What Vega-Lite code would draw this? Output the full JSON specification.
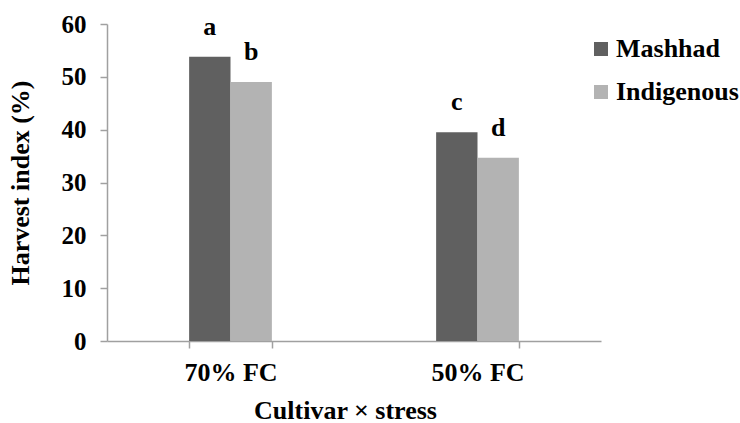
{
  "$schema": "https://vega.github.io/schema/vega-lite/v6.json",
  "width": 494,
  "height": 317,
  "autosize": {"type": "none"},
  "padding": {"left": 107, "top": 24, "right": 139, "bottom": 82},
  "background": "white",
  "config": {
    "view": {"stroke": null},
    "font": "Liberation Serif",
    "axis": {"labelFont": "Liberation Serif", "titleFont": "Liberation Serif", "labelFontWeight": "bold", "titleFontWeight": "bold", "labelColor": "black", "titleColor": "black", "domainColor": "#a0a0a0", "tickColor": "#a0a0a0", "grid": false},
    "legend": {"labelFont": "Liberation Serif", "labelFontWeight": "bold", "labelColor": "black"}
  },
  "data": {
    "values": [
      {"stress": "70% FC", "cultivar": "Mashhad", "hi": 53.8, "letter": "a"},
      {"stress": "70% FC", "cultivar": "Indigenous", "hi": 49.0, "letter": "b"},
      {"stress": "50% FC", "cultivar": "Mashhad", "hi": 39.5, "letter": "c"},
      {"stress": "50% FC", "cultivar": "Indigenous", "hi": 34.7, "letter": "d"}
    ]
  },
  "encoding": {
    "x": {
      "field": "stress", "type": "nominal", "sort": ["70% FC", "50% FC"],
      "scale": {"paddingInner": 0.665, "paddingOuter": 0.3325},
      "axis": {"title": "Cultivar × stress", "titleX": 238, "labelAngle": 0, "labelFontSize": 26, "titleFontSize": 26, "labelPadding": 11, "titlePadding": 12, "tickSize": 7, "tickBand": "extent", "domainWidth": 1.5, "tickWidth": 1.5}
    },
    "xOffset": {"field": "cultivar", "type": "nominal", "sort": ["Mashhad", "Indigenous"]},
    "y": {
      "field": "hi", "type": "quantitative",
      "scale": {"domain": [0, 60]},
      "axis": {"title": "Harvest index (%)", "values": [0, 10, 20, 30, 40, 50, 60], "labelFontSize": 25, "titleFontSize": 26, "tickSize": 7, "labelPadding": 14, "titlePadding": 28, "domainWidth": 1.5, "tickWidth": 1.5}
    }
  },
  "layer": [
    {
      "mark": {"type": "bar"},
      "encoding": {
        "color": {
          "field": "cultivar", "type": "nominal", "sort": ["Mashhad", "Indigenous"],
          "scale": {"domain": ["Mashhad", "Indigenous"], "range": ["#606060", "#b3b3b3"]},
          "legend": {"title": null, "orient": "none", "legendX": 481, "legendY": 12, "symbolType": "square", "symbolSize": 196, "symbolStrokeWidth": 0, "labelFontSize": 26, "rowPadding": 17, "labelOffset": 2}
        }
      }
    },
    {
      "mark": {"type": "text", "baseline": "alphabetic", "dy": -22, "fontSize": 26, "fontWeight": "bold", "font": "Liberation Serif", "color": "black"},
      "encoding": {"text": {"field": "letter"}}
    }
  ]
}
